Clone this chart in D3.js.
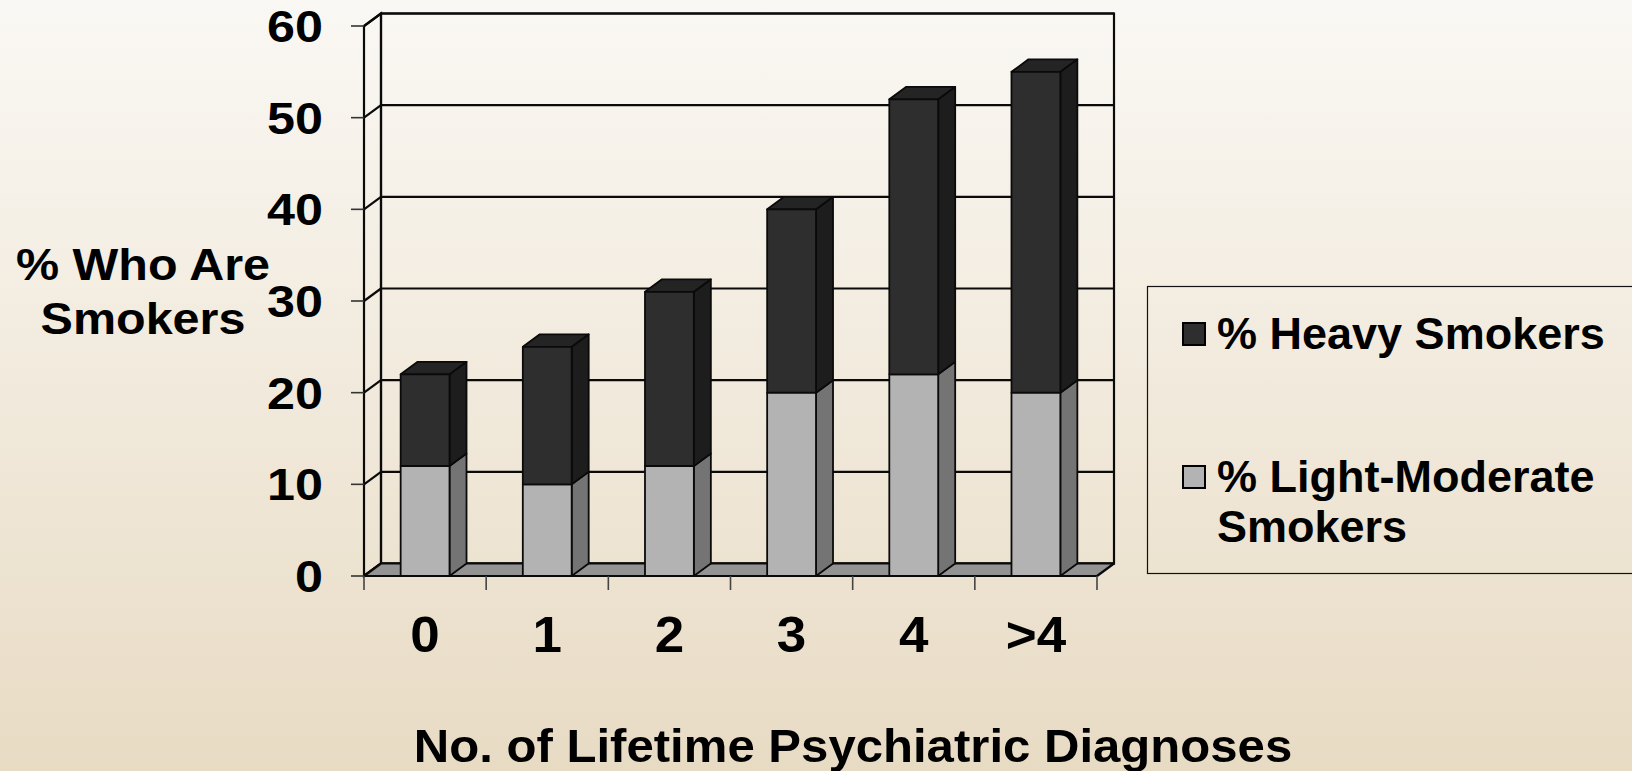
<!DOCTYPE html>
<html>
<head>
<meta charset="utf-8">
<script src="https://cdn.jsdelivr.net/npm/d3@7"></script>
<style>
  html, body { margin: 0; padding: 0; }
  body { width: 1632px; height: 771px; overflow: hidden; }
  svg { display: block; }
  text { font-family: "Liberation Sans", Arial, sans-serif; font-weight: bold; fill: #000; }
</style>
</head>
<body>
<script>
// Smoking rates by number of lifetime psychiatric diagnoses
const categories = ["0", "1", "2", "3", "4", ">4"];
const lightModerate = [12, 10, 12, 20, 22, 20];
const heavy = [10, 15, 19, 20, 30, 35];
const yTicks = [0, 10, 20, 30, 40, 50, 60];
const seriesKeys = ["light", "heavy"];
const legendLabels = [["% Heavy Smokers"], ["% Light-Moderate", "Smokers"]];
const yTitleLines = ["% Who Are", "Smokers"];
const xTitle = "No. of Lifetime Psychiatric Diagnoses";

const W = 1632, H = 771;
const svg = d3.select("body").append("svg").attr("width", W).attr("height", H);

// page background
const defs = svg.append("defs");
const grad = defs.append("linearGradient").attr("id", "bg").attr("x1", 0).attr("y1", 0).attr("x2", 0).attr("y2", 1);
grad.append("stop").attr("offset", "0%").attr("stop-color", "#faf8f4");
grad.append("stop").attr("offset", "100%").attr("stop-color", "#e8dbc4");
svg.append("rect").attr("width", W).attr("height", H).attr("fill", "url(#bg)");

// plot geometry (front plane + depth offset for the 3D look)
const x0 = 364, x1 = 1097;
const depthX = 17, depthY = -12.5;
const y = d3.scaleLinear().domain([0, 60]).range([576, 26]);
const x = d3.scaleBand().domain(categories).range([x0, x1]).paddingInner(0.6).paddingOuter(0.3);

const table = categories.map((c, i) => ({ cat: c, light: lightModerate[i], heavy: heavy[i] }));
const stacked = d3.stack().keys(seriesKeys)(table);

const colors = {
  light: { front: "#b3b3b3", side: "#747474", top: "#9a9a9a" },
  heavy: { front: "#2e2e2e", side: "#1d1d1d", top: "#242424" }
};
const line = "#0a0a0a";
const poly = pts => "M" + pts.map(p => p.join(",")).join("L") + "Z";

const g = svg.append("g");

// back wall with gridlines
const backL = x0 + depthX, backR = x1 + depthX;
g.append("rect")
  .attr("x", backL).attr("y", y(60) + depthY)
  .attr("width", backR - backL).attr("height", y(0) - y(60))
  .attr("fill", "none").attr("stroke", line).attr("stroke-width", 2.2);
g.selectAll(".grid").data(yTicks).join("line")
  .attr("x1", backL).attr("x2", backR)
  .attr("y1", d => y(d) + depthY).attr("y2", d => y(d) + depthY)
  .attr("stroke", line).attr("stroke-width", 2.2);

// left side wall
g.append("path")
  .attr("d", poly([[x0, y(0)], [x0, y(60)], [backL, y(60) + depthY], [backL, y(0) + depthY]]))
  .attr("fill", "none").attr("stroke", line).attr("stroke-width", 2.2);
g.selectAll(".sidegrid").data(yTicks).join("line")
  .attr("x1", x0).attr("y1", d => y(d))
  .attr("x2", backL).attr("y2", d => y(d) + depthY)
  .attr("stroke", line).attr("stroke-width", 2.2);

// floor
g.append("path")
  .attr("d", poly([[x0, y(0)], [backL, y(0) + depthY], [backR, y(0) + depthY], [x1, y(0)]]))
  .attr("fill", "#939393").attr("stroke", line).attr("stroke-width", 2.2).attr("stroke-linejoin", "round");

// y ticks
g.selectAll(".ytick").data(yTicks).join("line")
  .attr("x1", x0 - 13).attr("x2", x0)
  .attr("y1", d => y(d)).attr("y2", d => y(d))
  .attr("stroke", "#333").attr("stroke-width", 1.6);

// x ticks at category boundaries
const step = x.step();
const xb = d3.range(categories.length + 1).map(i => x0 + i * step);
g.selectAll(".xtick").data(xb).join("line")
  .attr("x1", d => d).attr("x2", d => d)
  .attr("y1", y(0)).attr("y2", y(0) + 14)
  .attr("stroke", "#444").attr("stroke-width", 1.6);

// stacked 3D bars
const bw = x.bandwidth();
const bars = g.append("g");
table.forEach((row, i) => {
  stacked.forEach((layer, li) => {
    const key = layer.key;
    const [v0, v1] = layer[i];
    const bx = x(row.cat);
    const yt = y(v1), yb = y(v0);
    const col = colors[key];
    const bg = bars.append("g").attr("stroke", line).attr("stroke-width", 1.8).attr("stroke-linejoin", "round");
    // side face
    bg.append("path")
      .attr("d", poly([[bx + bw, yb], [bx + bw, yt], [bx + bw + depthX, yt + depthY], [bx + bw + depthX, yb + depthY]]))
      .attr("fill", col.side);
    // top face on the uppermost segment
    if (li === stacked.length - 1) {
      bg.append("path")
        .attr("d", poly([[bx, yt], [bx + depthX, yt + depthY], [bx + bw + depthX, yt + depthY], [bx + bw, yt]]))
        .attr("fill", col.top);
    }
    // front face
    bg.append("rect")
      .attr("x", bx).attr("y", yt).attr("width", bw).attr("height", yb - yt)
      .attr("fill", col.front);
  });
});

// y tick labels
const yFs = 44.5;
g.selectAll(".ylab").data(yTicks).join("text")
  .attr("transform", d => `translate(323,${y(d) + yFs * 0.716 / 2}) scale(1.13,1)`)
  .attr("text-anchor", "end")
  .style("font-size", yFs + "px")
  .text(d => d);

// x tick labels
g.selectAll(".xlab").data(categories).join("text")
  .attr("transform", d => `translate(${x(d) + bw / 2},652) scale(1.06,1)`)
  .attr("text-anchor", "middle")
  .style("font-size", "50px")
  .text(d => d);

// axis titles
g.append("text")
  .attr("transform", "translate(853,762) scale(1.045,1)")
  .attr("text-anchor", "middle")
  .style("font-size", "47px")
  .text(xTitle);

g.selectAll(".ytitle").data(yTitleLines).join("text")
  .attr("transform", (d, i) => `translate(143,${279.5 + i * 54}) scale(1.115,1)`)
  .attr("text-anchor", "middle")
  .style("font-size", "43.5px")
  .text(d => d);

// legend
const lg = svg.append("g");
lg.append("rect")
  .attr("x", 1147.5).attr("y", 286.5).attr("width", 560).attr("height", 287)
  .attr("fill", "none").attr("stroke", "#111").attr("stroke-width", 1.2);
const legendItems = [
  { label: legendLabels[0], fill: colors.heavy.front, y: 349 },
  { label: legendLabels[1], fill: colors.light.front, y: 492 }
];
legendItems.forEach(item => {
  lg.append("rect")
    .attr("x", 1183).attr("y", item.y - 26).attr("width", 22).attr("height", 22)
    .attr("fill", item.fill).attr("stroke", "#000").attr("stroke-width", 2);
  const t = lg.append("text").attr("x", 1217).attr("y", item.y).style("font-size", "45px");
  item.label.forEach((s, k) => {
    t.append("tspan").attr("x", 1217).attr("dy", k === 0 ? 0 : 50).text(s);
  });
});
</script>
</body>
</html>
